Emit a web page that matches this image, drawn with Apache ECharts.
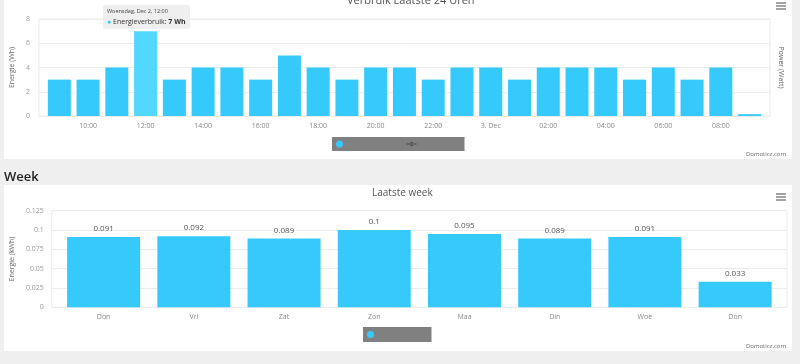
<!DOCTYPE html>
<html><head><meta charset="utf-8">
<script src="https://cdn.jsdelivr.net/npm/echarts@6/dist/echarts.min.js"></script>
<style>html,body{margin:0;padding:0;background:#efefef}#c{width:800px;height:364px}</style>
</head><body><div id="c"></div>
<script>
// ---- data ----
const hourLabels = ['09:00','10:00','11:00','12:00','13:00','14:00','15:00','16:00','17:00','18:00','19:00','20:00','21:00','22:00','23:00','3. Dec','01:00','02:00','03:00','04:00','05:00','06:00','07:00','08:00','09:00'];
const hourEnergyWh = [3,3,4,7,3,4,4,3,5,4,3,4,4,3,4,4,3,4,4,4,3,4,3,4,0.15];
const hourPowerW = [];
const hourTicks = [0,2,4,6,8];
const dayLabels = ['Don','Vri','Zat','Zon','Maa','Din','Woe','Don'];
const dayEnergyKWh = [0.091,0.092,0.089,0.1,0.095,0.089,0.091,0.033];
const dayTicks = [0,0.025,0.05,0.075,0.1,0.125];
const hoveredIndex = 3;

const FONT = '"Open Sans", "DejaVu Sans", sans-serif';
const BAR = '#36c9fb';
const chart = echarts.init(document.getElementById('c'), null, {renderer:'canvas'});

const topData = hourEnergyWh.map((v,i)=> i===hoveredIndex ? {value:[i,v], itemStyle:{color:'#52d8ff'}} : {value:[i,v]});
const weekData = dayEnergyKWh.map((v,i)=>[i,v]);
const oddIdx = hourLabels.map((_,i)=>i).filter(i=>i%2===1);
const dayIdx = dayLabels.map((_,i)=>i);

function fullLabel(i){
  const h = hourLabels[i].indexOf(':')>0 ? hourLabels[i] : '00:00';
  return (i<15 ? 'Woensdag, Dec 2, ' : 'Donderdag, Dec 3, ') + h;
}
function menuIcon(x,y){
  return [0,3,6].map(d=>({type:'line', shape:{x1:x,y1:y+d,x2:x+10,y2:y+d}, style:{stroke:'#666',lineWidth:1.2}}));
}
const yAxisBase = {axisLine:{show:false, onZero:false}, axisTick:{show:false}};

chart.setOption({
  animation:false,
  backgroundColor:'#efefef',
  textStyle:{fontFamily:FONT},
  graphic:[
    {type:'rect', z:-10, shape:{x:4,y:0,width:788,height:159}, style:{fill:'#fff'}},
    {type:'rect', z:-10, shape:{x:4,y:185,width:788,height:166}, style:{fill:'#fff'}},
    ...menuIcon(776,3), ...menuIcon(776,194),
    {type:'text', x:786, y:151, style:{text:'Domoticz.com', align:'right', fill:'#666', font:'6px '+FONT}},
    {type:'text', x:786, y:343, style:{text:'Domoticz.com', align:'right', fill:'#666', font:'6px '+FONT}}
  ],
  title:[
    {text:'Verbruik Laatste 24 Uren', left:347, top:-5, padding:0, textStyle:{fontSize:11, fontWeight:'normal', color:'#555', fontFamily:FONT}},
    {text:'Week', left:4, top:171, padding:0, textStyle:{fontSize:13, fontWeight:600, color:'#222', fontFamily:FONT}},
    {text:'Laatste week', left:372, top:188, padding:0, textStyle:{fontSize:10, fontWeight:'normal', color:'#555', fontFamily:FONT}}
  ],
  legend:[
    {data:[{name:'Energieverbruik', icon:'circle'},{name:'Power', icon:'path://M0,3h12v1.2h-12z M6,1.2a2.4,2.4 0 1,0 0.01,0z'}], left:332, top:137, orient:'horizontal',
     padding:[3.5,43,3.5,4], itemGap:57, itemWidth:10, itemHeight:7, formatter:()=>'', backgroundColor:'#808080',
     textStyle:{fontSize:6, lineHeight:7}, selected:{Power:false}, inactiveColor:'#444', inactiveBorderColor:'#444', selectedMode:false},
    {data:[{name:'Verbruik', icon:'circle'}], left:363, top:327, padding:[4,51,4,4], itemWidth:10, itemHeight:7,
     formatter:()=>'', backgroundColor:'#808080', textStyle:{fontSize:6, lineHeight:7}, selectedMode:false}
  ],
  tooltip:{
    trigger:'item', triggerOn:'none', alwaysShowContent:true, position:[103,5], transitionDuration:0,
    backgroundColor:'rgba(238,238,238,0.95)', borderWidth:0, padding:[2,4],
    extraCssText:'box-shadow:none;border-radius:2px;',
    formatter:p=>'<div style="font-family:Open Sans,sans-serif;font-size:5.5px;line-height:9px;color:#444">'+fullLabel(p.dataIndex)+'</div>'+
      '<div style="font-family:Open Sans,sans-serif;font-size:7px;line-height:11px;color:#333"><span style="color:'+BAR+'">●</span> '+p.seriesName+': <b>'+p.value[1]+' Wh</b></div>'
  },
  grid:[
    {left:38, right:30, top:19, bottom:248, show:true, borderColor:'#ececec', borderWidth:1},
    {left:48, right:13, top:210.7, bottom:56.7, show:true, borderColor:'#ececec', borderWidth:1}
  ],
  xAxis:[
    {type:'value', gridIndex:0, min:-0.71, max:24.71, splitLine:{show:false}, axisLine:{show:false}, axisTick:{show:false},
     axisLabel:{customValues:oddIdx, formatter:v=>hourLabels[v], fontSize:7, color:'#888', margin:6}},
    {type:'value', gridIndex:1, min:-0.575, max:7.575, splitLine:{show:false}, axisLine:{show:false}, axisTick:{show:false},
     axisLabel:{customValues:dayIdx, formatter:v=>dayLabels[v], fontSize:7, color:'#888', margin:6}}
  ],
  yAxis:[
    Object.assign({type:'value', gridIndex:0, position:'left', min:hourTicks[0], max:hourTicks[hourTicks.length-1], interval:2,
     axisLabel:{fontSize:7, color:'#999', margin:9}, splitLine:{lineStyle:{color:'#ececec'}},
     name:'Energie (Wh)', nameLocation:'middle', nameGap:19, nameTextStyle:{fontSize:7, color:'#666'}}, yAxisBase),
    Object.assign({type:'value', gridIndex:0, position:'right', min:0, max:1, axisLabel:{show:false}, splitLine:{show:false},
     name:'Power (Watt)', nameLocation:'middle', nameRotate:-90, nameGap:7, nameTextStyle:{fontSize:7, color:'#666'}}, yAxisBase),
    Object.assign({type:'value', gridIndex:1, position:'left', min:dayTicks[0], max:dayTicks[dayTicks.length-1], interval:0.025,
     axisLabel:{fontSize:7, color:'#999', margin:8}, splitLine:{lineStyle:{color:'#ececec'}},
     name:'Energie (kWh)', nameLocation:'middle', nameGap:28, nameTextStyle:{fontSize:7, color:'#666'}}, yAxisBase)
  ],
  series:[
    {name:'Energieverbruik', type:'bar', xAxisIndex:0, yAxisIndex:0, barWidth:23, itemStyle:{color:BAR}, data:topData},
    {name:'Power', type:'line', xAxisIndex:0, yAxisIndex:1, itemStyle:{color:'#555'}, data:hourPowerW},
    {name:'Verbruik', type:'bar', xAxisIndex:1, yAxisIndex:2, barWidth:73, itemStyle:{color:BAR}, data:weekData,
     label:{show:true, position:'top', distance:4, fontSize:8, color:'#555', formatter:p=>String(p.value[1])}}
  ]
});
chart.dispatchAction({type:'showTip', seriesIndex:0, dataIndex:hoveredIndex});
</script>
</body></html>
